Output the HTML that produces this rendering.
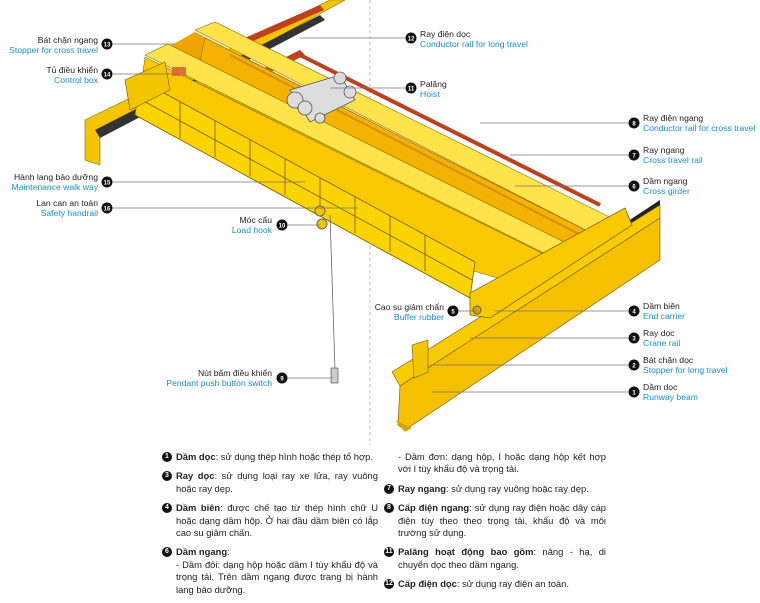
<!DOCTYPE html>
<html><head><meta charset="utf-8"><style>
body{margin:0;width:760px;height:590px;background:#fff;overflow:hidden;position:relative;font-family:"Liberation Sans",sans-serif}
svg{position:absolute;left:0;top:0}
.l{position:absolute;font-size:8.6px;line-height:10px;white-space:nowrap}
.l b{font-weight:normal;color:#222;display:block}
.l i{font-style:normal;color:#1a8fc9;display:block}
.r{text-align:right}
.t{position:absolute;font-size:9.4px;line-height:12.4px;color:#222;text-align:justify}
.t p{margin:0 0 7px 0;position:relative;padding-left:14px}
.t p .n{position:absolute;left:0;top:1px;width:10px;height:10px;border-radius:50%;background:#111;color:#fff;font-size:7px;line-height:10px;text-align:center;font-weight:bold}
</style></head><body>
<svg width="760" height="590" viewBox="0 0 760 590">
<line x1="370" y1="0" x2="370" y2="445" stroke="#aaa" stroke-dasharray="3,3" stroke-width="0.8"/>
<polygon points="85,120 330,0 345,0 100,135 100,165 85,160" fill="#f3c500" stroke="#8a7000" stroke-width="0.6"/>
<polygon points="95,130 320,15 325,20 100,138" fill="#333"/>
<polygon points="230,85 300,50 305,55 235,90" fill="#c0401c"/>
<polygon points="240,40 320,5 324,10 244,45" fill="#c0401c"/>
<polygon points="195,32 615,245 585,273 150,57" fill="#f0a400"/>
<polygon points="195,30 215,22 640,232 615,245" fill="#ffe34a" stroke="#8a7000" stroke-width="0.6"/>
<polygon points="205,38 615,245 600,292 195,85" fill="#f5b200" stroke="#8a7000" stroke-width="0.6"/>
<line x1="300" y1="55" x2="600" y2="205" stroke="#c0401c" stroke-width="4"/>
<line x1="230" y1="55" x2="610" y2="250" stroke="#d49000" stroke-width="2"/>
<polygon points="145,55 168,44 600,260 582,272" fill="#ffe34a" stroke="#8a7000" stroke-width="0.6"/>
<polygon points="145,57 582,273 575,300 470,270 140,95" fill="#f8c800" stroke="#8a7000" stroke-width="0.6"/>
<polygon points="140,80 475,262 470,298 135,115" fill="#fbd400" stroke="#6d5800" stroke-width="0.8"/>
<g stroke="#6d5800" stroke-width="0.8">
<line x1="138" y1="98" x2="472" y2="280"/>
<line x1="180" y1="102" x2="180" y2="138"/><line x1="215" y1="121" x2="215" y2="157"/><line x1="250" y1="140" x2="250" y2="176"/><line x1="285" y1="159" x2="285" y2="195"/><line x1="320" y1="178" x2="320" y2="214"/><line x1="355" y1="197" x2="355" y2="233"/><line x1="390" y1="216" x2="390" y2="252"/><line x1="425" y1="235" x2="425" y2="271"/>
</g>
<rect x="172" y="67" width="14" height="9" fill="#e07030"/>
<polygon points="125,80 165,62 170,90 130,110" fill="#f3c500" stroke="#6d5800" stroke-width="0.6"/>
<g fill="#ddd" stroke="#555" stroke-width="0.8">
<polygon points="290,90 340,75 355,100 310,122"/>
<circle cx="295" cy="100" r="8"/><circle cx="305" cy="108" r="7"/><circle cx="340" cy="78" r="6"/><circle cx="350" cy="92" r="6"/><circle cx="320" cy="118" r="5"/>
</g>
<line x1="330" y1="215" x2="335" y2="370" stroke="#666" stroke-width="0.8"/>
<circle cx="320" cy="211" r="5" fill="#f3c500" stroke="#666"/><circle cx="322" cy="224" r="5" fill="#f3c500" stroke="#666"/>
<rect x="331" y="368" width="7" height="15" fill="#ccc" stroke="#444" stroke-width="0.6"/>
<polygon points="430,352 660,200 660,210 432,362" fill="#222"/>
<polygon points="392,372 660,205 660,218 400,386" fill="#f8cc00" stroke="#6d5800" stroke-width="0.6"/>
<polygon points="400,386 660,218 660,260 405,430 398,425" fill="#f5c000" stroke="#6d5800" stroke-width="0.6"/>
<polygon points="395,420 412,428 405,432" fill="#d9a800"/>
<polygon points="412,345 428,340 428,372 414,378" fill="#f3c500" stroke="#6d5800" stroke-width="0.6"/>
<polygon points="470,293 625,208 632,225 490,318 470,315" fill="#f8c800" stroke="#6d5800" stroke-width="0.7"/>
<circle cx="477" cy="310" r="4" fill="#d9a800" stroke="#555"/>
<g stroke="#777" stroke-width="0.7">
<line x1="113" y1="44" x2="175" y2="44"/><line x1="113" y1="74" x2="180" y2="74"/>
<line x1="113" y1="182" x2="305" y2="182"/><line x1="113" y1="208" x2="358" y2="208"/>
<line x1="288" y1="225" x2="320" y2="225"/><line x1="288" y1="378" x2="333" y2="378"/>
<line x1="459" y1="311" x2="477" y2="311"/>
<line x1="405" y1="38" x2="300" y2="38"/><line x1="405" y1="88" x2="330" y2="88"/>
<line x1="628" y1="123" x2="480" y2="123"/><line x1="628" y1="155" x2="510" y2="155"/><line x1="628" y1="186" x2="515" y2="186"/>
<line x1="628" y1="311" x2="495" y2="311"/><line x1="628" y1="338" x2="470" y2="338"/><line x1="628" y1="365" x2="430" y2="365"/><line x1="628" y1="392" x2="432" y2="392"/>
</g>
<g fill="#111">
<circle cx="107" cy="44" r="5.5"/><circle cx="107" cy="74" r="5.5"/><circle cx="107" cy="182" r="5.5"/><circle cx="107" cy="208" r="5.5"/>
<circle cx="282" cy="225" r="5.5"/><circle cx="282" cy="378" r="5.5"/><circle cx="453" cy="311" r="5.5"/>
<circle cx="411" cy="38" r="5.5"/><circle cx="411" cy="88" r="5.5"/>
<circle cx="634" cy="123" r="5.5"/><circle cx="634" cy="155" r="5.5"/><circle cx="634" cy="186" r="5.5"/><circle cx="634" cy="311" r="5.5"/><circle cx="634" cy="338" r="5.5"/><circle cx="634" cy="365" r="5.5"/><circle cx="634" cy="392" r="5.5"/>
</g>
<g fill="#fff" font-size="6" font-weight="bold" text-anchor="middle" font-family="Liberation Sans, sans-serif">
<text x="107" y="46.5">13</text><text x="107" y="76.5">14</text><text x="107" y="184.5">15</text><text x="107" y="210.5">16</text>
<text x="282" y="227.5">10</text><text x="282" y="380.5">9</text><text x="453" y="313.5">5</text>
<text x="411" y="40.5">12</text><text x="411" y="90.5">11</text>
<text x="634" y="125.5">8</text><text x="634" y="157.5">7</text><text x="634" y="188.5">6</text><text x="634" y="313.5">4</text><text x="634" y="340.5">3</text><text x="634" y="367.5">2</text><text x="634" y="394.5">1</text>
</g>
</svg>
<div class="l r" style="right:662px;top:35px"><b>Bát chặn ngang</b><i>Stopper for cross travel</i></div>
<div class="l r" style="right:662px;top:65px"><b>Tủ điều khiển</b><i>Control box</i></div>
<div class="l r" style="right:662px;top:172px"><b>Hành lang bảo dưỡng</b><i>Maintenance walk way</i></div>
<div class="l r" style="right:662px;top:198px"><b>Lan can an toàn</b><i>Safety handrail</i></div>
<div class="l r" style="right:488px;top:215px"><b>Móc cẩu</b><i>Load hook</i></div>
<div class="l r" style="right:488px;top:368px"><b>Nút bấm điều khiển</b><i>Pendant push button switch</i></div>
<div class="l r" style="right:316px;top:302px"><b>Cao su giảm chấn</b><i>Buffer rubber</i></div>
<div class="l" style="left:420px;top:29px"><b>Ray điện dọc</b><i>Conductor rail for long travel</i></div>
<div class="l" style="left:420px;top:79px"><b>Palăng</b><i>Hoist</i></div>
<div class="l" style="left:643px;top:113px"><b>Ray điện ngang</b><i>Conductor rail for cross travel</i></div>
<div class="l" style="left:643px;top:145px"><b>Ray ngang</b><i>Cross travel rail</i></div>
<div class="l" style="left:643px;top:176px"><b>Dầm ngang</b><i>Cross girder</i></div>
<div class="l" style="left:643px;top:301px"><b>Dầm biên</b><i>End carrier</i></div>
<div class="l" style="left:643px;top:328px"><b>Ray dọc</b><i>Crane rail</i></div>
<div class="l" style="left:643px;top:355px"><b>Bát chặn dọc</b><i>Stopper for long travel</i></div>
<div class="l" style="left:643px;top:382px"><b>Dầm dọc</b><i>Runway beam</i></div>
<div class="t" style="left:162px;top:451px;width:216px">
<p><span class="n">1</span><b>Dầm dọc</b>: sử dụng thép hình hoặc thép tổ hợp.</p>
<p><span class="n">3</span><b>Ray dọc</b>: sử dụng loại ray xe lửa, ray vuông hoặc ray dẹp.</p>
<p><span class="n">4</span><b>Dầm biên</b>: được chế tạo từ thép hình chữ U hoặc dạng dầm hộp. Ở hai đầu dầm biên có lắp cao su giảm chấn.</p>
<p><span class="n">6</span><b>Dầm ngang</b>:<br>- Dầm đôi: dạng hộp hoặc dầm I tùy khẩu độ và trọng tải. Trên dầm ngang được trang bị hành lang bảo dưỡng.</p>
</div>
<div class="t" style="left:384px;top:451px;width:222px">
<p>- Dầm đơn: dạng hộp, I hoặc dạng hộp kết hợp với I tùy khẩu độ và trọng tải.</p>
<p><span class="n">7</span><b>Ray ngang</b>: sử dụng ray vuông hoặc ray dẹp.</p>
<p><span class="n">8</span><b>Cấp điện ngang</b>: sử dụng ray điện hoặc dây cáp điện tùy theo theo trọng tải, khẩu độ và môi trường sử dụng.</p>
<p><span class="n">11</span><b>Palăng hoạt động bao gồm</b>: nâng - hạ, di chuyển dọc theo dầm ngang.</p>
<p><span class="n">12</span><b>Cấp điện dọc</b>: sử dụng ray điện an toàn.</p>
</div>
</body></html>
